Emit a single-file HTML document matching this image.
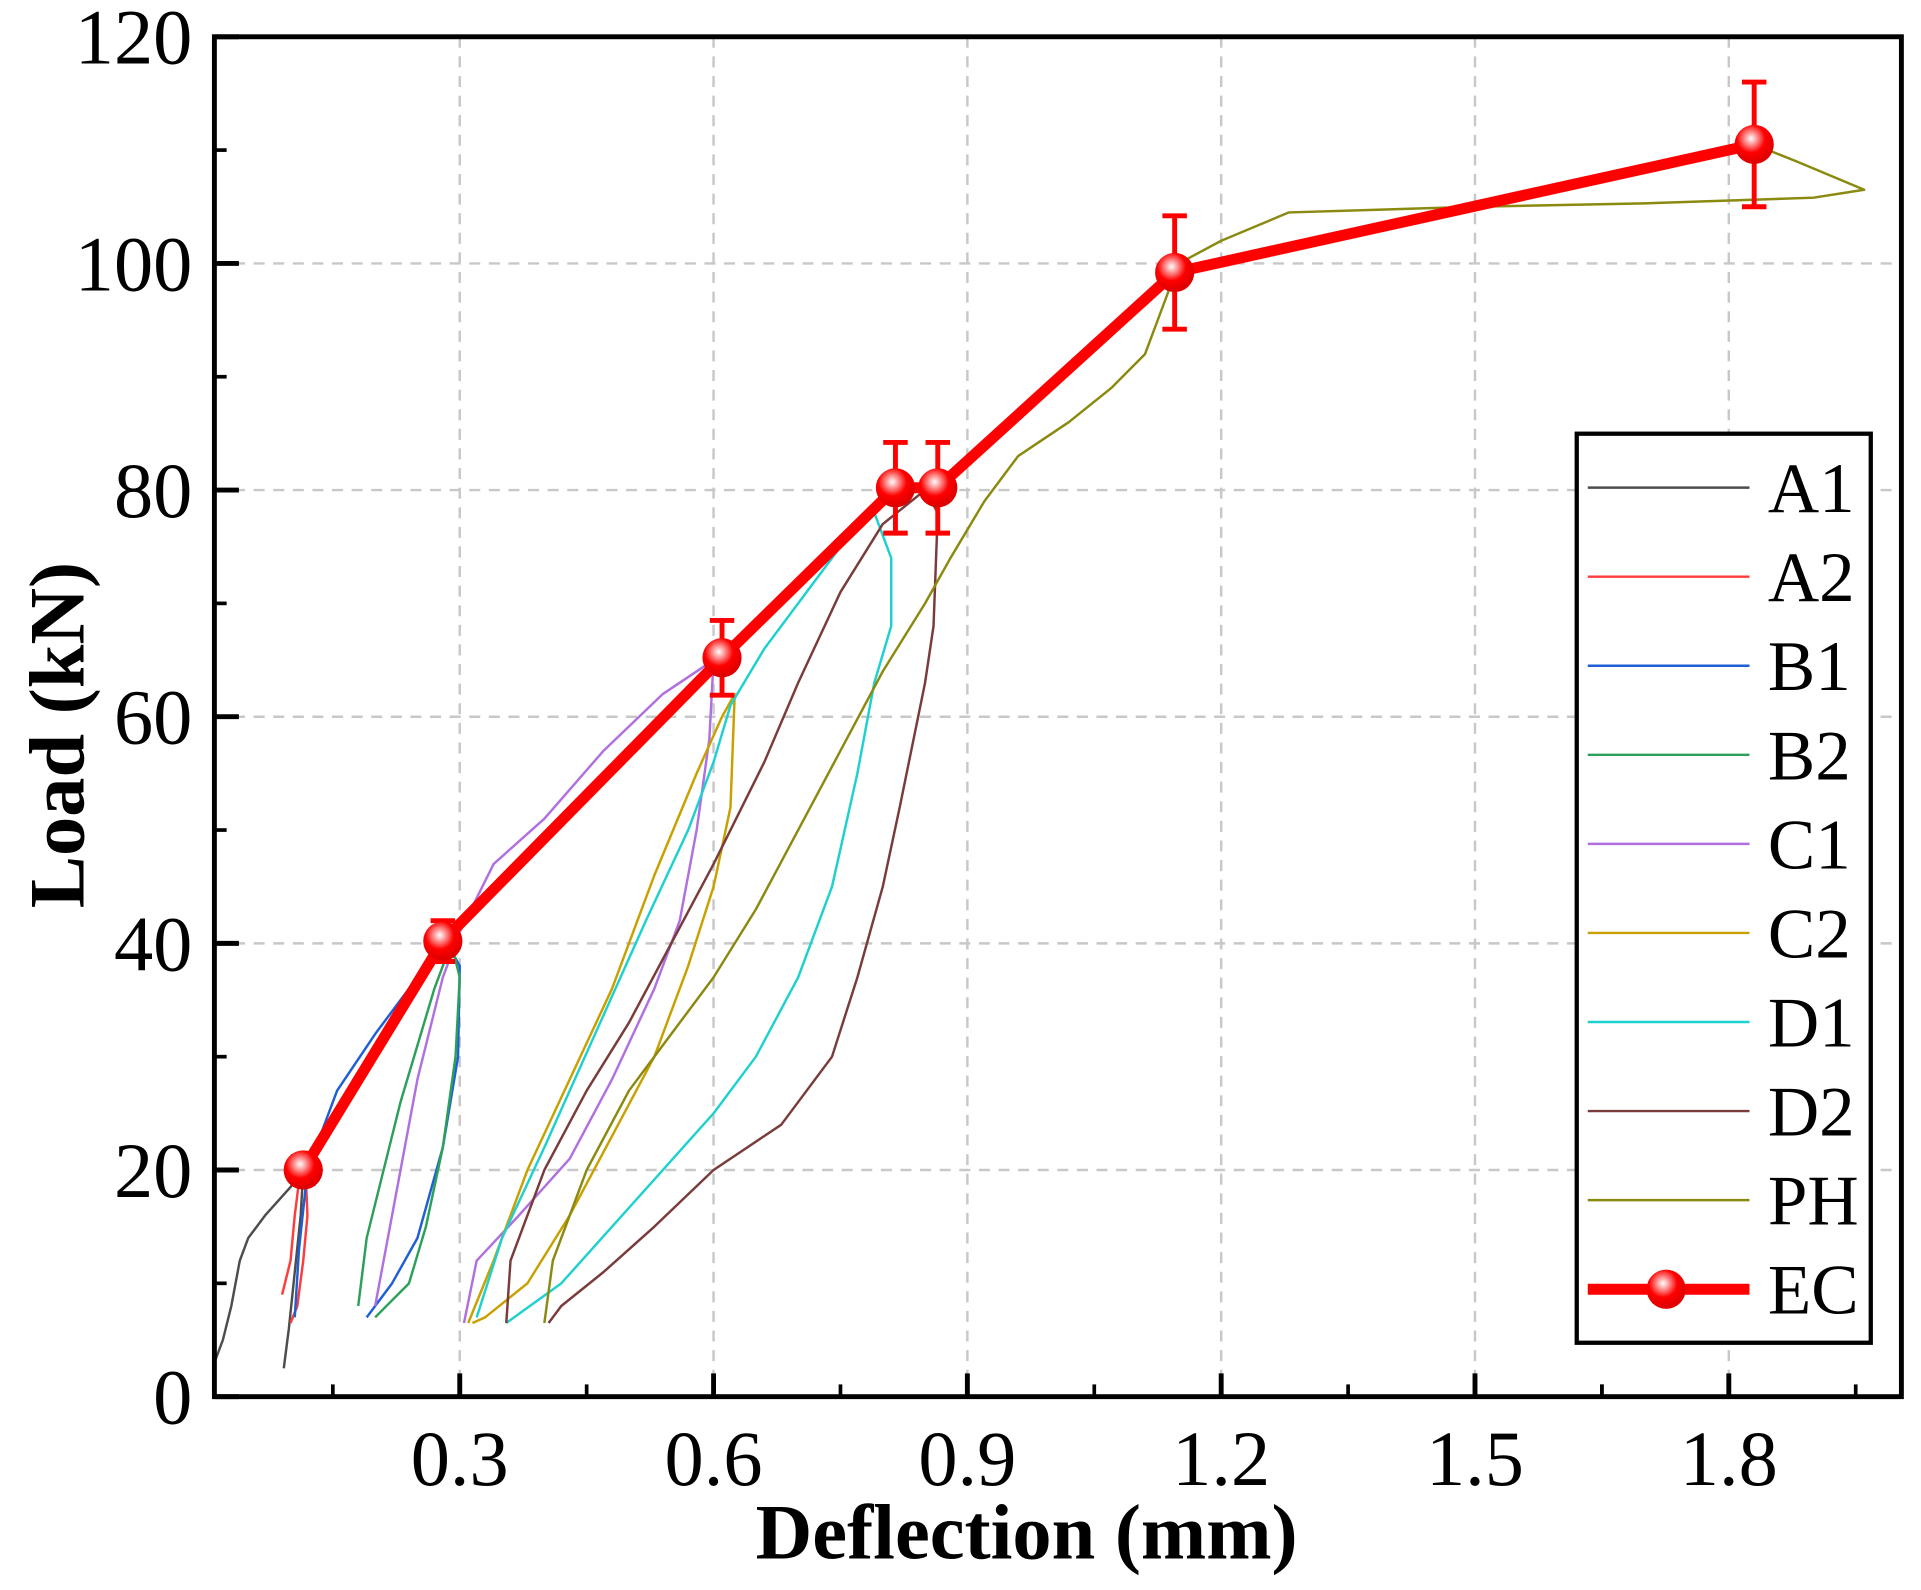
<!DOCTYPE html>
<html><head><meta charset="utf-8"><style>html,body{margin:0;padding:0;background:#fff}svg{display:block}svg text{font-family:"Liberation Serif","Times New Roman",serif}</style></head>
<body>
<svg id="chart" width="1921" height="1590" viewBox="0 0 1568 1297.8" xmlns="http://www.w3.org/2000/svg" style="font-family:'Liberation Serif',serif">
<rect width="1568" height="1298" fill="#fff"/>
<g id="grid"></g>
<g id="series"></g>
<g id="axes"></g>
<g id="legend"></g>
</svg>
<script>
const xTicks = [0.3, 0.6, 0.9, 1.2, 1.5, 1.8];
const xTickLabels = ["0.3", "0.6", "0.9", "1.2", "1.5", "1.8"];
const yTicks = [0, 20, 40, 60, 80, 100, 120];
const yTickLabels = ["0", "20", "40", "60", "80", "100", "120"];
const seriesNames = ["A1","A2","B1","B2","C1","C2","D1","D2","PH"];
const seriesColors = ["#4d4d4d","#ff3b3b","#1f5fd6","#2ca05a","#b070e0","#c8a000","#1fd0d0","#7a3b3b","#8a8a10"];
const A1 = [[0.01,3],[0.02,5],[0.03,8],[0.04,12],[0.05,14],[0.07,16],[0.1,18.5],[0.115,20],[0.112,16],[0.105,11],[0.098,6],[0.092,2.5]];
const A2 = [[0.09,9],[0.1,12],[0.105,16],[0.11,19],[0.118,19.5],[0.12,16],[0.115,12],[0.108,8],[0.1,6.5]];
const B1 = [[0.105,7],[0.11,13],[0.12,20],[0.155,27],[0.2,32],[0.25,37],[0.285,40],[0.3,38],[0.298,30],[0.28,22],[0.25,14],[0.22,10],[0.19,7]];
const B2 = [[0.18,8],[0.19,14],[0.21,20],[0.23,26],[0.25,31],[0.27,36],[0.29,40],[0.3,37],[0.295,30],[0.28,22],[0.26,15],[0.24,10],[0.2,7]];
const C1 = [[0.2,8],[0.22,16],[0.25,28],[0.28,37],[0.3,41],[0.34,47],[0.4,51],[0.47,57],[0.54,62],[0.6,65],[0.595,58],[0.58,50],[0.56,42],[0.53,36],[0.48,28],[0.43,21],[0.37,16],[0.32,12],[0.305,6.5]];
const C2 = [[0.31,6.5],[0.34,12],[0.38,20],[0.43,28],[0.48,36],[0.53,46],[0.58,55],[0.61,60],[0.625,62],[0.62,52],[0.6,45],[0.57,38],[0.53,30],[0.48,23],[0.43,16],[0.38,10],[0.33,7],[0.315,6.5]];
const D1 = [[0.32,7],[0.35,14],[0.4,22],[0.46,32],[0.52,42],[0.57,50],[0.6,56],[0.62,61],[0.66,66],[0.7,70],[0.75,75],[0.79,78],[0.81,74],[0.81,68],[0.79,63],[0.77,55],[0.74,45],[0.7,37],[0.65,30],[0.6,25],[0.54,20],[0.48,15],[0.42,10],[0.355,6.5]];
const D2 = [[0.355,6.5],[0.36,12],[0.4,20],[0.45,27],[0.5,33],[0.55,40],[0.6,47],[0.66,56],[0.7,63],[0.75,71],[0.8,77],[0.85,80],[0.865,78],[0.86,68],[0.85,63],[0.82,52],[0.8,45],[0.77,37],[0.74,30],[0.68,24],[0.6,20],[0.53,15],[0.47,11],[0.42,8],[0.405,6.5]];
const PH = [[0.4,6.5],[0.41,12],[0.45,20],[0.5,27],[0.55,32],[0.6,37],[0.65,43],[0.7,50],[0.75,57],[0.8,64],[0.85,70],[0.88,74],[0.92,79],[0.96,83],[1.02,86],[1.07,89],[1.11,92],[1.13,96],[1.15,100],[1.2,102],[1.28,104.5],[1.5,105],[1.7,105.3],[1.9,105.8],[1.96,106.5],[1.88,109],[1.83,110.5]];
const ecX = [0.115, 0.28, 0.61, 0.815, 0.865, 1.145, 1.83];
const ecY = [20, 40.2, 65.2, 80.2, 80.2, 99.2, 110.5];
const ecErr = [1.2, 1.8, 3.3, 4.0, 4.0, 5.0, 5.5];

const L=175, R=1552, T=30, B=1140, X0=0.01, X1=2.004, Y0=0, Y1=120;
const sx = v => L + (v - X0) / (X1 - X0) * (R - L);
const sy = v => B - (v - Y0) / (Y1 - Y0) * (B - T);
const NS = "http://www.w3.org/2000/svg";
function mk(tag, attrs, parent) { const e = document.createElementNS(NS, tag); for (const k in attrs) e.setAttribute(k, attrs[k]); parent.appendChild(e); return e; }
const grid = document.getElementById('grid'), series = document.getElementById('series'), axes = document.getElementById('axes'), legend = document.getElementById('legend');

xTicks.forEach((v, i) => {
  const g = mk('line', {x1: sx(v), x2: sx(v), y1: T, y2: B, stroke: '#c8c8c8', 'stroke-width': 2, 'stroke-dasharray': '9,7'}, grid);
  
  
  const t = mk('line', {x1: sx(v), x2: sx(v), y1: B, y2: B - 19, stroke: '#000', 'stroke-width': 4}, axes);
  
  
  const m = mk('line', {x1: sx(v - 0.15), x2: sx(v - 0.15), y1: B, y2: B - 10, stroke: '#000', 'stroke-width': 3}, axes);
  
  
  const l = mk('text', {x: sx(v), y: 1212, 'text-anchor': 'middle', 'font-size': 64}, axes);
  l.textContent = xTickLabels[i];
  
  
});
[1.65, 1.95].forEach(v => { const m = mk('line', {x1: sx(v), x2: sx(v), y1: B, y2: B - 10, stroke: '#000', 'stroke-width': 3}, axes);
  
   });
yTicks.forEach((v, i) => {
  if (v > 0 && v < 120) { const g = mk('line', {x1: L, x2: R, y1: sy(v), y2: sy(v), stroke: '#c8c8c8', 'stroke-width': 2, 'stroke-dasharray': '9,7'}, grid);
    
     }
  const t = mk('line', {x1: L, x2: L + 20, y1: sy(v), y2: sy(v), stroke: '#000', 'stroke-width': 4}, axes);
  
  
  if (v < 120) { const m = mk('line', {x1: L, x2: L + 10, y1: sy(v + 10), y2: sy(v + 10), stroke: '#000', 'stroke-width': 3}, axes);
    
     }
  const l = mk('text', {x: 157, y: sy(v) + 22, 'text-anchor': 'end', 'font-size': 64}, axes);
  l.textContent = yTickLabels[i];
  
  
});
const frame = mk('rect', {x: L, y: T, width: R - L, height: B - T, fill: 'none', stroke: '#000', 'stroke-width': 4}, axes);


const xt = mk('text', {x: 838, y: 1272, 'text-anchor': 'middle', 'font-size': 64, 'font-weight': 'bold'}, axes);
xt.textContent = 'Deflection (mm)';


const yt = mk('text', {x: 0, y: 0, 'text-anchor': 'middle', 'font-size': 64, 'font-weight': 'bold', transform: 'translate(68,600) rotate(-90)'}, axes);
yt.textContent = 'Load (kN)';



const allData = [A1, A2, B1, B2, C1, C2, D1, D2, PH];
allData.forEach((d, i) => {
  const p = mk('polyline', {points: d.map(q => sx(q[0]) + ',' + sy(q[1])).join(' '), fill: 'none', stroke: seriesColors[i], 'stroke-width': 2, 'stroke-linejoin': 'round'}, series);
  
  
});
const ecLine = mk('polyline', {points: ecX.map((x, i) => sx(x) + ',' + sy(ecY[i])).join(' '), fill: 'none', stroke: '#ff0000', 'stroke-width': 9, 'stroke-linejoin': 'round'}, series);


const defs = mk('defs', {}, series);
const rg = mk('radialGradient', {id: 'ball', cx: '0.42', cy: '0.35', r: '0.6'}, defs);
mk('stop', {offset: '0', 'stop-color': '#ffffff'}, rg);
mk('stop', {offset: '0.3', 'stop-color': '#ff8080'}, rg);
mk('stop', {offset: '0.6', 'stop-color': '#ff0000'}, rg);
mk('stop', {offset: '1', 'stop-color': '#e00000'}, rg);
ecX.forEach((x, i) => {
  const cx = sx(x), t = sy(ecY[i] + ecErr[i]), b = sy(ecY[i] - ecErr[i]);
  const e = mk('path', {d: `M${cx},${t}V${b}M${cx-10},${t}H${cx+10}M${cx-10},${b}H${cx+10}`, stroke: '#ff0000', 'stroke-width': 4, fill: 'none'}, series);
  
  
  const c = mk('circle', {cx: cx, cy: sy(ecY[i]), r: 16, fill: 'url(#ball)'}, series);
  
  
});

const lb = mk('rect', {x: 1287, y: 354, width: 240, height: 742, fill: '#fff', stroke: '#000', 'stroke-width': 3.5}, legend);


const names = seriesNames.concat(['EC']);
names.forEach((n, i) => {
  const y = 400 + i * 72.7;
  const isEC = n === 'EC';
  const ln = mk('line', {x1: 1296, x2: 1428, y1: y - 2, y2: y - 2, stroke: isEC ? '#ff0000' : seriesColors[i], 'stroke-width': isEC ? 9 : 2}, legend);
  
  
  if (isEC) { const c = mk('circle', {cx: 1360, cy: y - 2, r: 16, fill: 'url(#ball)'}, legend);
    
     }
  const t = mk('text', {x: 1443, y: y + 18, 'font-size': 58}, legend);
  t.textContent = n;
  
  
});
</script>
</body></html>
